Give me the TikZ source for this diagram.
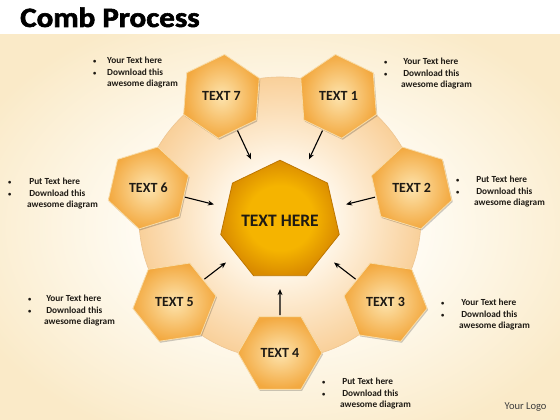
\documentclass[tikz,border=0pt]{standalone}
\usepackage{fontspec}
\setmainfont{Carlito}
\newfontfamily\titlefont[FakeBold=2]{Carlito}
\usetikzlibrary{shapes.geometric,arrows.meta,calc,shadows}
\definecolor{hexout}{HTML}{F3A940}
\definecolor{hexin}{HTML}{FDE4AE}
\definecolor{hexedge}{HTML}{F8DCA8}
\definecolor{heptout}{HTML}{DA8C00}
\definecolor{heptin}{HTML}{F5B400}
\definecolor{heptedge}{HTML}{BD7600}
\definecolor{diskin}{HTML}{FFF8EC}
\definecolor{diskout}{HTML}{F9D09A}
\definecolor{diskedge}{HTML}{EDC592}
\definecolor{bgin}{HTML}{FFFCF4}
\definecolor{bgout}{HTML}{FAEAC8}
\definecolor{txt}{HTML}{1E1A14}
\definecolor{logo}{HTML}{3C3C3C}
\pgfdeclareradialshading{diskshade}{\pgfpoint{0bp}{0bp}}{color(0bp)=(diskin); color(9bp)=(diskin); color(25bp)=(diskout); color(50bp)=(diskout)}
\pgfdeclareradialshading{bgshade}{\pgfpoint{0bp}{0bp}}{color(0bp)=(bgin); color(12bp)=(bgin); color(30bp)=(bgout); color(50bp)=(bgout)}
\pgfdeclareradialshading{heptshade}{\pgfpoint{0bp}{0bp}}{color(0bp)=(heptin); color(14bp)=(heptin); color(25bp)=(heptout); color(50bp)=(heptout)}
\newcommand\bl[1][14]{\llap{\makebox[#1pt][l]{\scalebox{0.7}{\textbullet}}}}
\tikzset{
  hexa/.style={regular polygon, regular polygon sides=6, minimum size=84pt, inner sep=0pt,
    draw=hexedge, line width=0.8pt, inner color=hexin, outer color=hexout,
    font=\fontsize{14}{16}\selectfont\bfseries, text=txt,
    drop shadow={shadow xshift=1pt, shadow yshift=-1.5pt, opacity=0.2, fill=black}},
  hepta/.style={regular polygon, regular polygon sides=7, minimum size=116pt, inner sep=0pt,
    draw=heptedge, line width=0.8pt, shading=heptshade,
    font=\fontsize{17.5}{20}\selectfont\bfseries, text=txt},
  arr/.style={-{Stealth[length=6pt,width=5pt]}, line width=1.1pt, black, shorten >=13pt, shorten <=1pt},
  bul/.style={anchor=north west, align=left, inner sep=0pt, font=\fontsize{9.3}{11.6}\selectfont\bfseries, text=txt}
}
\begin{document}
\begin{tikzpicture}[x=1pt,y=1pt]
\useasboundingbox (0,0) rectangle (560,420);
\fill[white] (0,0) rectangle (560,420);
\shade[shading=bgshade] (0,0) rectangle (560,385);
\coordinate (o) at (280,202);
\shade[shading=diskshade, draw=diskedge, line width=0.6pt] (o) circle[radius=141];
\node[hepta] (ctr) at (280,199) {TEXT HERE};
\foreach \k/\a in {1/64.29, 2/12.86, 3/-38.57, 4/-90, 5/218.57, 6/167.14, 7/115.71}{
  \pgfmathsetmacro\rr{\a+90}
  \node[hexa, shape border rotate=\rr] (h\k) at ($(o)+(\a:135)$) {TEXT \k};
}
\foreach \k in {1,...,7}{\draw[arr] (h\k) -- (ctr);}
\node[anchor=base west, inner sep=0pt, font=\fontsize{28}{30}\selectfont\titlefont\bfseries, text=black] (title) at (20,393) {\scalebox{1.11}[1]{Comb Process}};
\node[bul] (b7) at (107,363) {\bl Your Text here\\\bl Download this\\awesome diagram};
\node[bul] (b1) at (401,362) {\bl[17] Your Text here\\\bl[17] Download this\\awesome diagram};
\node[bul] (b6) at (27,242) {\bl[19] Put Text here\\\bl[19] Download this\\awesome diagram};
\node[bul] (b2) at (474,244) {\bl[18] Put Text here\\\bl[18] Download this\\awesome diagram};
\node[bul] (b5) at (44,125) {\bl[16] Your Text here\\\bl[16] Download this\\awesome diagram};
\node[bul] (b3) at (459,121) {\bl[18] Your Text here\\\bl[18] Download this\\awesome diagram};
\node[bul] (b4) at (340,42) {\bl[18] Put Text here\\\bl[18] Download this\\awesome diagram};
\node[anchor=base east, font=\fontsize{10.5}{12}\selectfont, text=logo] (logo) at (550,10) {Your Logo};
\end{tikzpicture}
\end{document}
